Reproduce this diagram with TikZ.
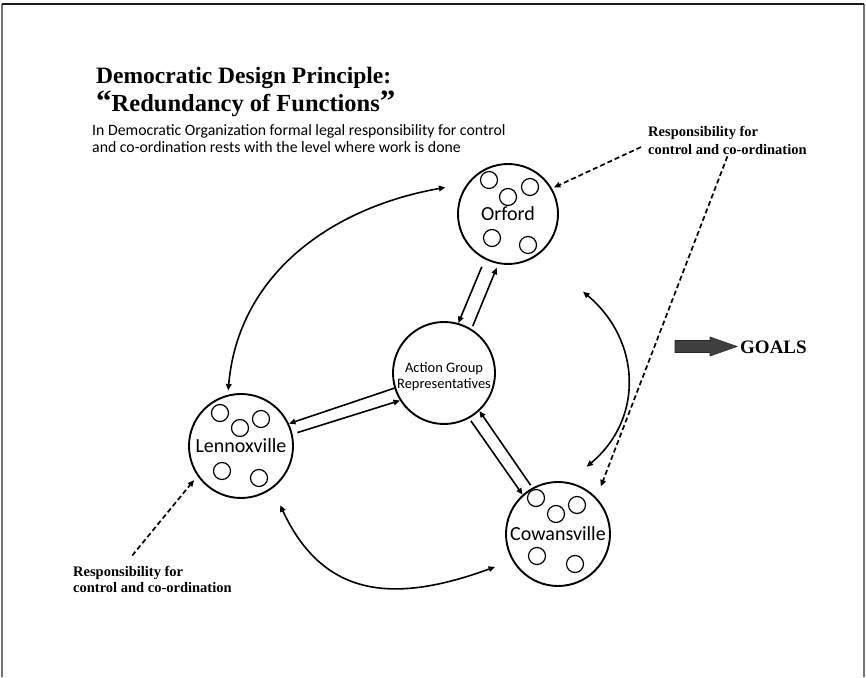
\documentclass[tikz,border=0pt]{standalone}
\usepackage{fontspec}
\setmainfont{Carlito}
\newfontfamily\tnr{Liberation Serif}
\usetikzlibrary{arrows.meta,calc}
\begin{document}
\begin{tikzpicture}[x=1pt,y=1pt,
  big/.style={circle, draw, line width=1.9pt, inner sep=0pt, font=\fontsize{20}{23}\selectfont},
  dot/.style={circle, draw, line width=1.2pt, minimum size=17pt, inner sep=0pt},
  link/.style={line width=1.6pt, -{Triangle[length=6.5pt,width=5.5pt]}},
  twoway/.style={line width=1.6pt, {Triangle[length=6.5pt,width=5.5pt]}-{Triangle[length=6.5pt,width=5.5pt]}},
  resp/.style={line width=1.7pt, dash pattern=on 5pt off 3pt, -{Triangle[length=6.5pt,width=5.5pt]}},
  ttl/.style={anchor=base west, inner sep=0pt, font=\tnr\bfseries\fontsize{23.5}{27}\selectfont},
  sub/.style={anchor=base west, inner sep=0pt, font=\fontsize{15.8}{18}\selectfont},
  lab/.style={anchor=base west, inner sep=0pt, font=\tnr\bfseries\fontsize{14.5}{17}\selectfont}
]
\useasboundingbox (0,0) rectangle (866,677);
% frame
\draw[black!55, line width=1.2pt] (2,0) -- (2,673);
\draw[black!55, line width=1.2pt] (864,0) -- (864,673);
\draw[black!90, line width=1.2pt] (2,673) -- (864,673);

% titles
\node[ttl] (t1) at (96,593) {Democratic Design Principle:};
\node[ttl, font=\tnr\bfseries\fontsize{24.5}{27}\selectfont] (t2) at (96,565) {{\fontsize{31}{31}\selectfont “}Redundancy of Functions{\fontsize{31}{31}\selectfont ”}};
\node[sub] (t3) at (92,541) {In Democratic Organization formal legal responsibility for control};
\node[sub] (t4) at (92,524) {and co-ordination rests with the level where work is done};

% main circles
\node[big, minimum size=100pt] (orf) at (508,463) {Orford};
\node[big, minimum size=102pt] (act) at (444,304) {};
\node[font=\fontsize{14.5}{16}\selectfont, align=center, inner sep=0pt] (actl) at (444,300) {Action Group\\Representatives};
\node[big, minimum size=104pt] (len) at (241,231) {Lennoxville};
\node[big, minimum size=104pt] (cow) at (558,143) {Cowansville};

% small circles
\foreach \p [count=\i] in {(489,497),(508,480),(530,490),(492,439),(528,432)}
  \node[dot] (o\i) at \p {};
\foreach \p [count=\i] in {(220,264),(240,249),(261,258),(222,206),(259,199)}
  \node[dot] (l\i) at \p {};
\foreach \p [count=\i] in {(536,179),(556,163),(577,172),(537,121),(575,113)}
  \node[dot] (c\i) at \p {};

% outer arcs
\draw[twoway] ($(len)+(103:57)$) to[out=85,in=190] ($(orf)+(157:68)$);
\draw[twoway] ($(orf)+(-46:108)$) to[out=-40,in=40,looseness=1.1] ($(cow)+(67:73)$);
\draw[twoway] ($(len)+(-56.5:71)$) to[out=-65,in=200,looseness=1.2] ($(cow)+(207.6:71)$);

% paired links with the center
\draw[link, shorten <=8pt] (orf.243) -- (act.74);
\draw[link, shorten <=3pt, shorten >=4pt] (act.58) -- (orf.259);
\draw[link] (act.197) -- (len.25);
\draw[link, shorten <=5pt] (len.13) -- (act.212);
\draw[link, shorten <=3pt] (act.299) -- (cow.132);
\draw[link, shorten <=3pt] (cow.119) -- (act.313);

% responsibility labels
\node[lab] (rt1) at (648,540) {Responsibility for};
\node[lab] (rt2) at (648,522) {control and co-ordination};
\draw[resp] ([xshift=-7pt,yshift=3pt]rt2.west) -- ($(orf)+(30:53)$);
\draw[resp] ([yshift=-1pt]rt2.south) -- ($(cow)+(48:64)$);

\node[lab] (lb1) at (73,101) {Responsibility for};
\node[lab] (lb2) at (73,85) {control and co-ordination};
\draw[resp] ($(lb1.north)+(4,10)$) -- ($(len)+(216:58)$);

% goals
\fill[black!75, draw=black!85, line width=0.6pt] (675,336.5) -- (710,336.5) -- (710,340) -- (737,330.5) -- (710,321) -- (710,324.5) -- (675,324.5) -- cycle;
\node[anchor=west, inner sep=0pt, font=\tnr\bfseries\fontsize{19}{22}\selectfont] (goals) at (740,330) {GOALS};
\end{tikzpicture}
\end{document}
